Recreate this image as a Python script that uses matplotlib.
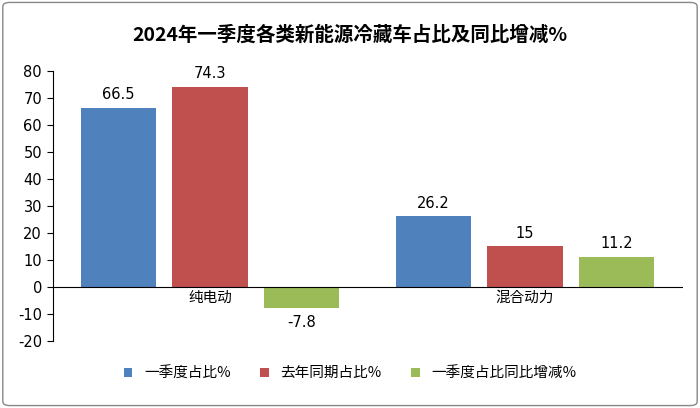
import matplotlib
matplotlib.use("Agg")
import matplotlib.pyplot as plt
from matplotlib import font_manager as fm
import numpy as np
from matplotlib.patches import FancyBboxPatch

cjk = None
for f in fm.fontManager.ttflist:
    if "CJK" in f.name and ("SC" in f.name or cjk is None):
        cjk = f.name
        if "SC" in f.name:
            break
if cjk is None:
    for p in fm.findSystemFonts():
        if "CJK" in p or "cjk" in p.lower():
            fm.fontManager.addfont(p)
            cjk = fm.FontProperties(fname=p).get_name()
            break
plt.rcParams["font.family"] = [cjk or "Noto Sans CJK SC", "DejaVu Sans"]
plt.rcParams["axes.unicode_minus"] = False

categories = ["纯电动", "混合动力"]
series_names = ["一季度占比%", "去年同期占比%", "一季度占比同比增减%"]
share_q1 = [66.5, 26.2]
share_last = [74.3, 15]
share_change = [-7.8, 11.2]
yticks = list(range(-20, 81, 10))

colors = ["#4F81BD", "#C0504D", "#9BBB59"]

fig = plt.figure(figsize=(7, 4.08), dpi=100)
fig.patches.append(FancyBboxPatch((0.004, 0.006), 0.992, 0.988, boxstyle="round,pad=0,rounding_size=0.01",
                                  transform=fig.transFigure, fill=False, ec="#888888", lw=1))
ax = fig.add_axes([0.075, 0.165, 0.9, 0.66])
x = np.arange(len(categories))
w = 0.24
for i, (vals, c, n) in enumerate(zip([share_q1, share_last, share_change], colors, series_names)):
    bars = ax.bar(x + (i - 1) * 0.29, vals, w, color=c, label=n)
    for b, v in zip(bars, vals):
        y = v + 2 if v >= 0 else v - 2.5
        ax.text(b.get_x() + b.get_width() / 2, y, f"{v:g}", ha="center",
                va="bottom" if v >= 0 else "top", fontsize=10.5, family="DejaVu Sans")
ax.set_xlim(-0.5, 1.5)
ax.set_ylim(-20, 80)
ax.set_yticks(yticks)
ax.tick_params(axis="y", labelsize=10.5, length=4)
for t in ax.get_yticklabels():
    t.set_family("DejaVu Sans")
ax.set_xticks([])
ax.axhline(0, color="black", lw=0.8)
for s in ["top", "right", "bottom"]:
    ax.spines[s].set_visible(False)
for xi, c in zip(x, categories):
    ax.text(xi, -1.5, c, ha="center", va="top", fontsize=10.5)
fig.text(0.5, 0.915, "2024年一季度各类新能源冷藏车占比及同比增减%", ha="center", va="center",
         fontsize=14, fontweight="bold")
fig.legend(loc="center", bbox_to_anchor=(0.5, 0.085), ncol=3, frameon=False, fontsize=10.5,
           handlelength=0.6, handleheight=0.6, columnspacing=2.0)
fig.savefig("out.png", dpi=100)
